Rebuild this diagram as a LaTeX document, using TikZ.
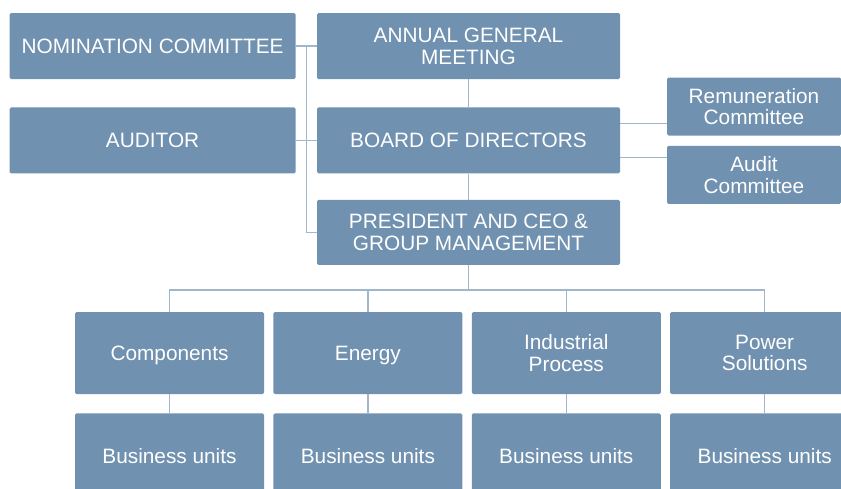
\documentclass[tikz,border=0pt]{standalone}
\usepackage{fontspec}
\setmainfont{Liberation Sans}
\usepackage{tikz}
\usetikzlibrary{positioning}
\usetikzlibrary{graphs}
\usetikzlibrary{calc}
\definecolor{boxblue}{RGB}{112,145,175}
\definecolor{linkblue}{RGB}{160,182,202}
\tikzset{orgbox/.style={fill=boxblue, text=white, rounded corners=1.5pt, align=center,
        inner sep=0pt, text depth=0pt, font=\fontsize{20.8}{21.5}\selectfont}}
\tikzset{wide/.style={orgbox, minimum width=303pt, minimum height=66pt}}
\tikzset{side/.style={orgbox, minimum width=174pt, minimum height=58pt}}
\tikzset{unit/.style={orgbox, minimum width=189pt, minimum height=82pt}}
\tikzset{link/.style={draw=linkblue, line width=1.5pt}}

\begin{document}
\begin{tikzpicture}
            \path[use as bounding box] (0pt,0pt) rectangle (841pt,-488pt);

            \node (agm) [wide] at (468.5pt,-46pt) {ANNUAL GENERAL\\MEETING};
            \node (bod) [wide, below=28pt of agm] {BOARD OF DIRECTORS};
            \node (ceo) [wide, below=26pt of bod, minimum height=65pt] {PRESIDENT AND CEO \&\\GROUP MANAGEMENT};
            \node (nom) [wide, minimum width=286pt, left=21pt of agm] {NOMINATION COMMITTEE};
            \node (aud) [wide, minimum width=286pt, left=21pt of bod] {AUDITOR};
            \node (rem) [side] at (754pt,-106.5pt) {Remuneration\\Committee};
            \node (adc) [side, below=10pt of rem] {Audit\\Committee};

            \node (div1) [unit] at (169.5pt,-353pt) {Components};
            \node (div2) [unit, right=9pt of div1] {Energy};
            \node (div3) [unit, right=9pt of div2] {Industrial\\Process};
            \node (div4) [unit, right=9pt of div3] {Power\\Solutions};
            \node (bu1) [unit, below=19pt of div1, minimum height=86pt] {Business units};
            \node (bu2) [unit, below=19pt of div2, minimum height=86pt] {Business units};
            \node (bu3) [unit, below=19pt of div3, minimum height=86pt] {Business units};
            \node (bu4) [unit, below=19pt of div4, minimum height=86pt] {Business units};

            \coordinate (bus) at ($(ceo.south)+(0,-25pt)$);
            \coordinate (spine) at ($(nom.east)!0.5!(agm.west)$);

            \graph[edges={link}]{
                (agm) -- (bod) -- (ceo);
                (nom) -- (agm);
                (aud) -- (bod);
                (div1) -- (bu1);
                (div2) -- (bu2);
                (div3) -- (bu3);
                (div4) -- (bu4);
            };
            \draw[link] (spine) |- (ceo.west);
            \draw[link] ([yshift=17pt]bod.east) -- ([yshift=17pt]bod.east -| rem.west);
            \draw[link] ([yshift=-17pt]bod.east) -- ([yshift=-17pt]bod.east -| adc.west);
            \draw[link] (ceo.south) -- (bus);
            \draw[link] (div1.north) |- (bus) -| (div4.north);
            \draw[link] (div2.north) -- (div2.north |- bus);
            \draw[link] (div3.north) -- (div3.north |- bus);
        \end{tikzpicture}
\end{document}
